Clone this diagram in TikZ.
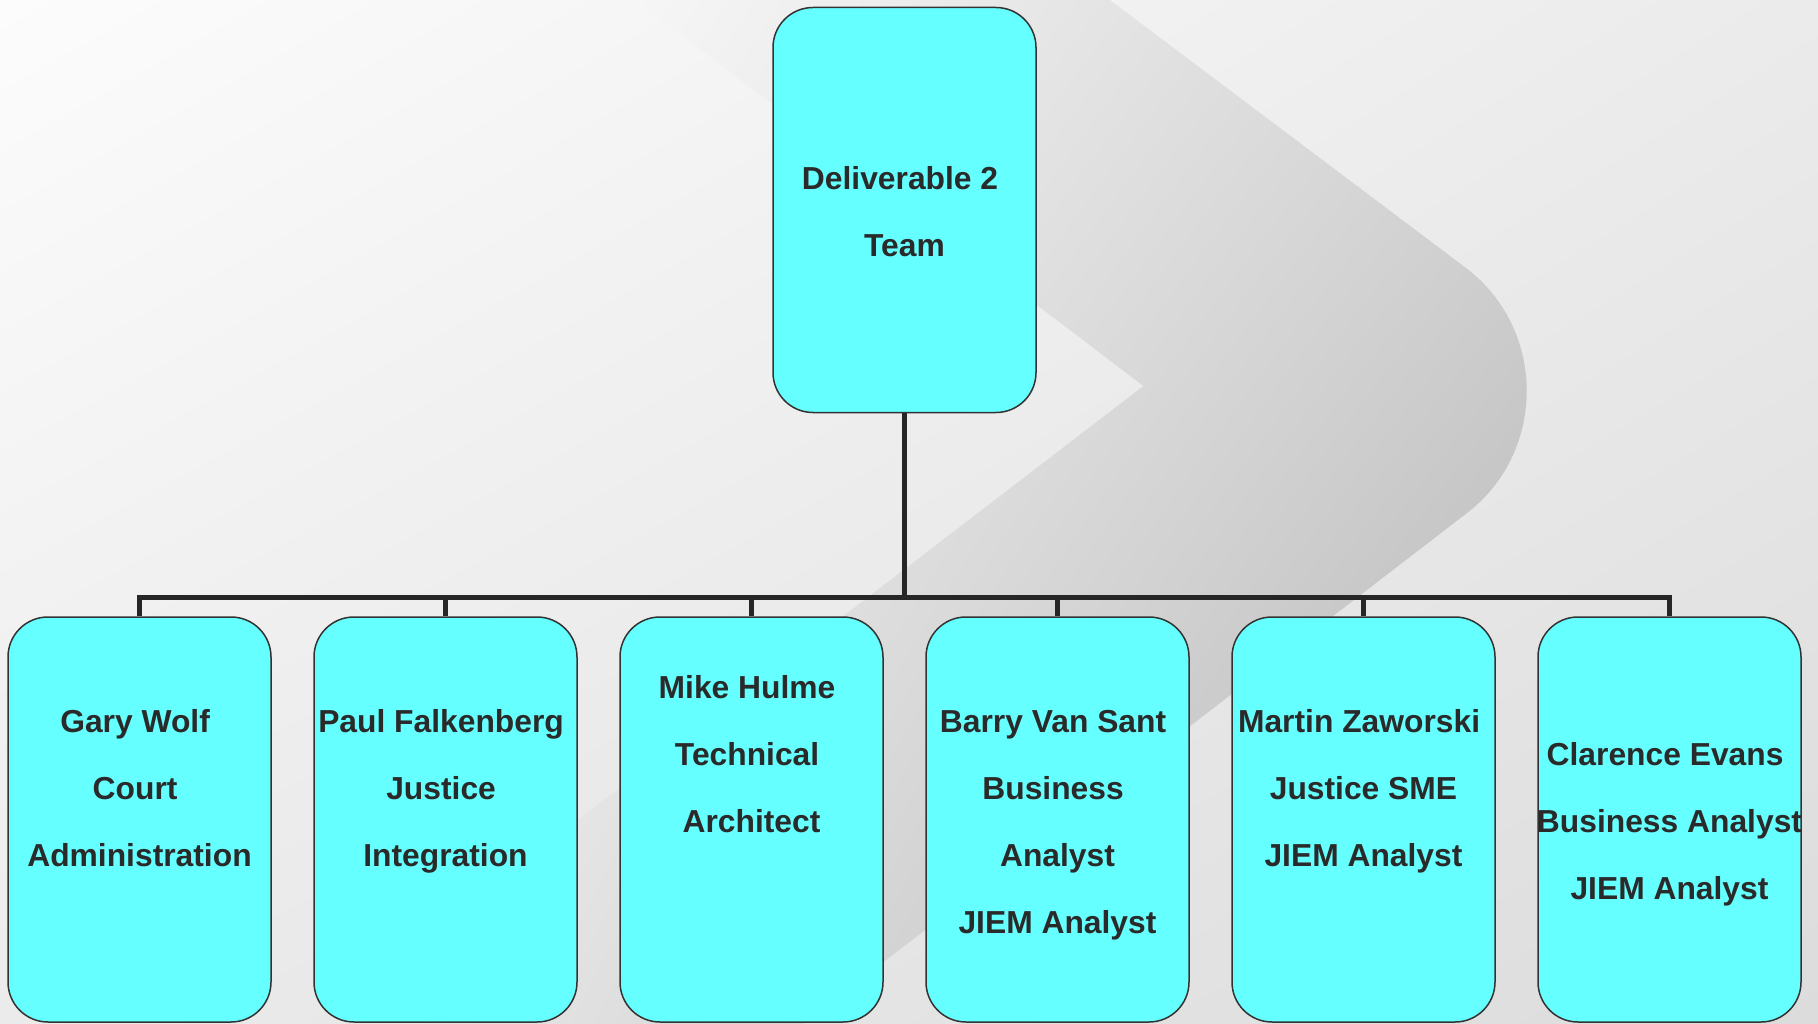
\documentclass[tikz,border=0pt]{standalone}
\usepackage{fontspec}
\setmainfont{Liberation Sans}
\usetikzlibrary{shadings}
\definecolor{bgA}{HTML}{FCFCFC}
\definecolor{bgB}{HTML}{EBEBEB}
\definecolor{bgC}{HTML}{DCDCDC}
\definecolor{chUL}{HTML}{FFFFFF}
\definecolor{chUR}{HTML}{D8D8D8}
\definecolor{chLL}{HTML}{E4E4E4}
\definecolor{chLR}{HTML}{B0B0B0}
\definecolor{boxfill}{HTML}{66FFFF}
\definecolor{boxline}{HTML}{333333}
\definecolor{txtcol}{HTML}{2A2A2A}
\definecolor{conncol}{HTML}{262626}
\newcommand\tsp{\mbox{\ }}
\begin{document}
\begin{tikzpicture}[x=1pt,y=-1pt,
  box/.style={draw=boxline, line width=1.5pt, fill=boxfill, rounded corners=40pt,
    minimum width=263pt, minimum height=405pt, inner sep=0pt},
  txt/.style={text=txtcol, font=\fontsize{31.8}{67}\selectfont\bfseries,
    align=center, inner sep=0pt, anchor=base},
  conn/.style={draw=conncol, line width=5pt}]
\useasboundingbox (0,0) rectangle (1818,1024);
\shade[upper left=bgA, upper right=bgB, lower left=bgB, lower right=bgC] (0,0) rectangle (1818,1024);
% background chevron
\begin{scope}
\clip (0,0) rectangle (1818,1024);
\path[clip] (977,-100) -- (1466,268) .. controls (1546.5,329) and (1547,451.5) .. (1467,513)
  -- (673,1124) -- (181,1124) -- (1143.5,386) -- (504,-100) -- cycle;
\shade[upper left=chUL, upper right=chUR, lower left=chLL, lower right=chLR] (450,-100) rectangle (1530,1124);
\end{scope}
% boxes
\node[box] (top) at (904.5,210) {};
\node[box] (b1) at (139.5,819.5) {};
\node[box] (b2) at (445.5,819.5) {};
\node[box] (b3) at (751.5,819.5) {};
\node[box] (b4) at (1057.5,819.5) {};
\node[box] (b5) at (1363.5,819.5) {};
\node[box] (b6) at (1669.5,819.5) {};
% connectors
\coordinate (bus) at (904.5,597.5);
\draw[conn] (top.south) -- (bus);
\foreach \n in {b1,b2,b3,b4,b5,b6} \draw[conn] (bus) -| (\n.north);
% texts (anchor = baseline of last line)
\node[txt] (ttop) at (904.5,257) {Deliverable 2\tsp\\Team};
\node[txt] (t1) at (139.5,866) {Gary Wolf\tsp\\Court\tsp\\Administration};
\node[txt] (t2) at (445.5,866) {Paul Falkenberg\tsp\\Justice\tsp\\Integration};
\node[txt] (t3) at (751.5,832) {Mike Hulme\tsp\\Technical\tsp\\Architect};
\node[txt] (t4) at (1057.5,933) {Barry Van Sant\tsp\\Business\tsp\\Analyst\\JIEM Analyst};
\node[txt] (t5) at (1363.5,866) {Martin Zaworski\tsp\\Justice SME\\JIEM Analyst};
\node[txt] (t6) at (1669.5,899) {Clarence Evans\tsp\\Business Analyst\\JIEM Analyst};
\end{tikzpicture}
\end{document}
